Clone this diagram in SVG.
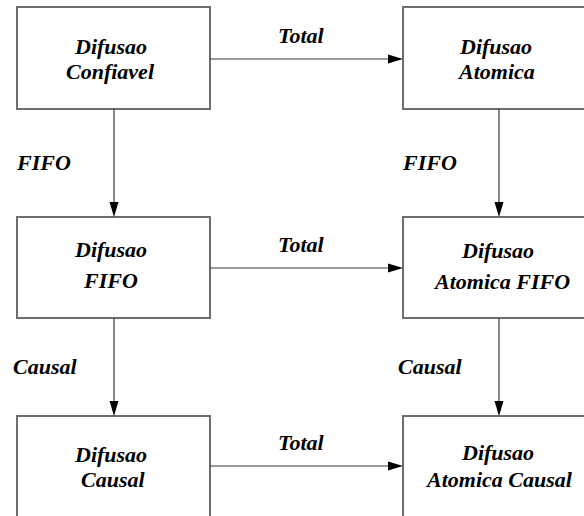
<svg xmlns="http://www.w3.org/2000/svg" width="584" height="516" viewBox="0 0 584 516">
  <rect width="584" height="516" fill="#fff"/>

  <!-- boxes -->
  <g fill="#fff" stroke="#6e6e6e" stroke-width="2">
    <rect id="box-confiavel" x="17" y="7" width="193" height="102"/>
    <rect id="box-atomica" x="403" y="7" width="193" height="102"/>
    <rect id="box-fifo" x="17" y="217" width="193" height="101"/>
    <rect id="box-atomica-fifo" x="403" y="217" width="193" height="101"/>
    <rect id="box-causal" x="17" y="416" width="193" height="110"/>
    <rect id="box-atomica-causal" x="403" y="416" width="193" height="110"/>
  </g>

  <!-- arrows between the broadcast variants; heads drawn as triangles -->
  <g id="connectors">
    <g stroke="#3a3a3a" stroke-width="1.2">
      <line x1="210" y1="59" x2="390" y2="59"/>
      <line x1="210" y1="268" x2="390" y2="268"/>
      <line x1="210" y1="466" x2="390" y2="466"/>
      <line x1="114" y1="109" x2="114" y2="204"/>
      <line x1="114" y1="318" x2="114" y2="403"/>
      <line x1="499" y1="109" x2="499" y2="204"/>
      <line x1="499" y1="318" x2="499" y2="403"/>
    </g>
    <g fill="#000">
      <polygon points="388,54.5 403,59 388,63.5"/>
      <polygon points="388,263.5 403,268 388,272.5"/>
      <polygon points="388,461.5 403,466 388,470.5"/>
      <polygon points="109.5,202 118.5,202 114,217"/>
      <polygon points="109.5,401 118.5,401 114,416"/>
      <polygon points="494.5,202 503.5,202 499,217"/>
      <polygon points="494.5,401 503.5,401 499,416"/>
    </g>
    <text x="278" y="43" font-family="Liberation Serif" font-weight="bold" font-style="italic" font-size="22">Total</text>
    <text x="278" y="252" font-family="Liberation Serif" font-weight="bold" font-style="italic" font-size="22">Total</text>
    <text x="278" y="450" font-family="Liberation Serif" font-weight="bold" font-style="italic" font-size="22">Total</text>
    <text x="17" y="170" font-family="Liberation Serif" font-weight="bold" font-style="italic" font-size="22">FIFO</text>
    <text x="403" y="170" font-family="Liberation Serif" font-weight="bold" font-style="italic" font-size="22">FIFO</text>
    <text x="13" y="374" font-family="Liberation Serif" font-weight="bold" font-style="italic" font-size="22">Causal</text>
    <text x="398" y="374" font-family="Liberation Serif" font-weight="bold" font-style="italic" font-size="22">Causal</text>
  </g>

  <g id="difusao-confiavel">
    <text x="75" y="54" font-family="Liberation Serif" font-weight="bold" font-style="italic" font-size="22">Difusao</text>
    <text x="66" y="79" font-family="Liberation Serif" font-weight="bold" font-style="italic" font-size="22">Confiavel</text>
  </g>
  <g id="difusao-atomica">
    <text x="460" y="54" font-family="Liberation Serif" font-weight="bold" font-style="italic" font-size="22">Difusao</text>
    <text x="459" y="79" font-family="Liberation Serif" font-weight="bold" font-style="italic" font-size="22">Atomica</text>
  </g>
  <g id="difusao-fifo">
    <text x="75" y="257" font-family="Liberation Serif" font-weight="bold" font-style="italic" font-size="22">Difusao</text>
    <text x="84" y="288" font-family="Liberation Serif" font-weight="bold" font-style="italic" font-size="22">FIFO</text>
  </g>
  <g id="difusao-atomica-fifo">
    <text x="462" y="258" font-family="Liberation Serif" font-weight="bold" font-style="italic" font-size="22">Difusao</text>
    <text x="435" y="289" font-family="Liberation Serif" font-weight="bold" font-style="italic" font-size="22">Atomica FIFO</text>
  </g>
  <g id="difusao-causal">
    <text x="75" y="462" font-family="Liberation Serif" font-weight="bold" font-style="italic" font-size="22">Difusao</text>
    <text x="81" y="487" font-family="Liberation Serif" font-weight="bold" font-style="italic" font-size="22">Causal</text>
  </g>
  <g id="difusao-atomica-causal">
    <text x="462" y="460" font-family="Liberation Serif" font-weight="bold" font-style="italic" font-size="22">Difusao</text>
    <text x="427" y="487" font-family="Liberation Serif" font-weight="bold" font-style="italic" font-size="22">Atomica Causal</text>
  </g>
</svg>
